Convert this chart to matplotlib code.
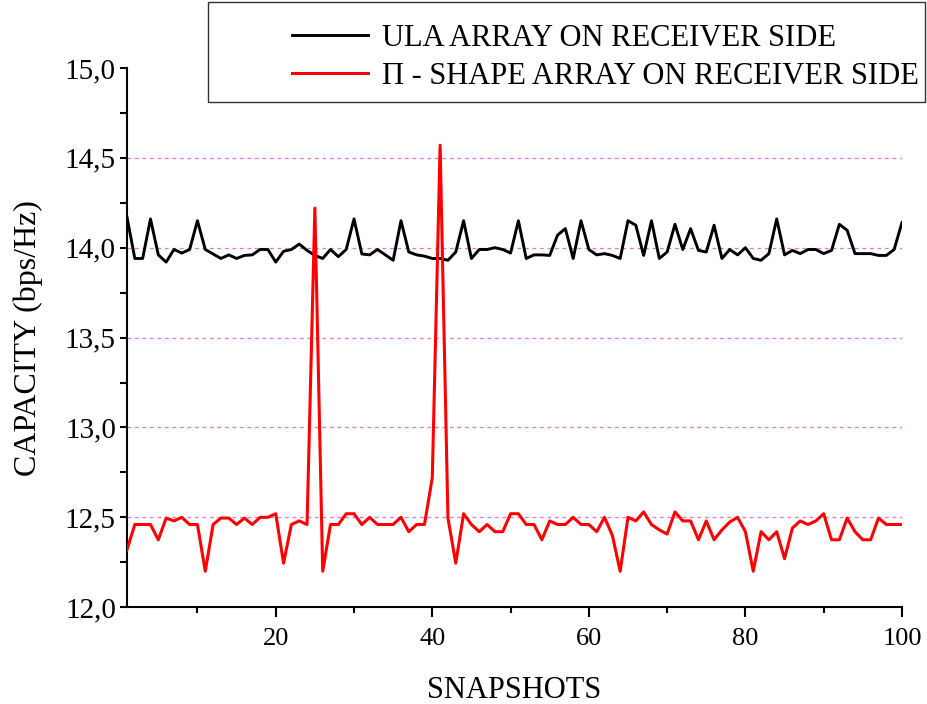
import matplotlib
matplotlib.use("Agg")
import matplotlib.pyplot as plt
from matplotlib.patches import Rectangle
from matplotlib.ticker import MultipleLocator, FuncFormatter

# snapshot index
snapshots = list(range(1, 101))

# capacity (bps/Hz), ULA array on receiver side
ula = [14.17, 13.94, 13.94, 14.16, 13.96, 13.92, 13.99, 13.97, 13.99, 14.15,
       13.99, 13.965, 13.94, 13.96, 13.94, 13.957, 13.96, 13.99, 13.99, 13.92,
       13.98, 13.99, 14.02, 13.985, 13.957, 13.94, 13.99, 13.95, 13.99, 14.16,
       13.965, 13.96, 13.99, 13.96, 13.93, 14.15, 13.976, 13.96, 13.953, 13.94,
       13.94, 13.93, 13.976, 14.15, 13.94, 13.99, 13.99, 14.0, 13.99, 13.97,
       14.15, 13.94, 13.96, 13.96, 13.957, 14.07, 14.106, 13.94, 14.15, 13.99,
       13.96, 13.967, 13.957, 13.94, 14.15, 14.125, 13.957, 14.15, 13.94, 13.976,
       14.13, 13.99, 14.106, 13.985, 13.976, 14.125, 13.94, 13.99, 13.96, 14.0,
       13.94, 13.93, 13.967, 14.16, 13.96, 13.985, 13.967, 13.99, 13.99, 13.967,
       13.985, 14.13, 14.097, 13.967, 13.967, 13.967, 13.957, 13.957, 13.99, 14.14]

# capacity (bps/Hz), PI-shape array on receiver side
pi_shape = [12.32, 12.46, 12.46, 12.46, 12.375, 12.496, 12.48, 12.5, 12.46, 12.46,
            12.20, 12.46, 12.496, 12.496, 12.46, 12.496, 12.46, 12.5, 12.5, 12.52,
            12.245, 12.46, 12.48, 12.46, 14.22, 12.20, 12.46, 12.46, 12.52, 12.52,
            12.46, 12.5, 12.46, 12.46, 12.46, 12.5, 12.42, 12.46, 12.46, 12.72,
            14.57, 12.496, 12.245, 12.52, 12.46, 12.42, 12.46, 12.42, 12.42, 12.52,
            12.52, 12.46, 12.46, 12.375, 12.48, 12.46, 12.46, 12.5, 12.46, 12.46,
            12.42, 12.5, 12.40, 12.20, 12.5, 12.48, 12.53, 12.46, 12.43, 12.407,
            12.53, 12.48, 12.48, 12.375, 12.48, 12.375, 12.43, 12.474, 12.5, 12.42,
            12.20, 12.42, 12.375, 12.42, 12.27, 12.44, 12.48, 12.46, 12.48, 12.52,
            12.375, 12.375, 12.496, 12.42, 12.375, 12.375, 12.496, 12.46, 12.46, 12.46]

labels = ["ULA ARRAY ON RECEIVER SIDE", "\u03a0 - SHAPE ARRAY ON RECEIVER SIDE"]

plt.rcParams['font.family'] = ['Liberation Serif', 'DejaVu Serif']

fig = plt.figure(figsize=(9.27, 7.04), dpi=100)
ax = fig.add_axes([0.137, 0.1375, 0.836, 0.766])

# dashed grid lines at the major y ticks
for g in [12.5, 13.0, 13.5, 14.0, 14.5]:
    ax.axhline(g, color='#dd77dd', linewidth=0.9, linestyle=(0, (3, 3)), zorder=1)

l1, = ax.plot(snapshots, ula, color='black', linewidth=2.1, zorder=3)
l2, = ax.plot(snapshots, pi_shape, color='#ff0000', linewidth=2.2, zorder=3)

ax.set_xlim(1, 100)
ax.set_ylim(12.0, 15.0)
ax.xaxis.set_major_locator(MultipleLocator(20))
ax.xaxis.set_minor_locator(MultipleLocator(10))
ax.yaxis.set_major_locator(MultipleLocator(0.5))
ax.yaxis.set_minor_locator(MultipleLocator(0.25))
ax.yaxis.set_major_formatter(FuncFormatter(lambda v, p: ("%.1f" % v).replace('.', ',')))

for s in ['top', 'right']:
    ax.spines[s].set_visible(False)
for s in ['left', 'bottom']:
    ax.spines[s].set_linewidth(1.5)

ax.tick_params(axis='x', which='major', direction='out', length=7, width=1.5, labelsize=19, pad=8)
ax.tick_params(axis='x', which='minor', direction='out', length=4, width=1.5)
ax.tick_params(axis='y', which='major', direction='out', length=5, width=1.5, labelsize=21, pad=3)
ax.tick_params(axis='y', which='minor', direction='out', length=5, width=1.5)

ax.set_xlabel("SNAPSHOTS", fontsize=22, labelpad=19)
ax.set_ylabel("CAPACITY (bps/Hz)", fontsize=23, labelpad=16)

# legend box drawn separately so it can be wider than the entries
fig.patches.append(Rectangle((0.2244, 0.855), 0.7735, 0.142, transform=fig.transFigure,
                             facecolor='white', edgecolor='#333333', linewidth=1.0, zorder=5))
leg = fig.legend([l1, l2], labels, loc='upper left',
                 bbox_to_anchor=(0.315, 0.966), fontsize=22, frameon=False,
                 handlelength=2.5, handletextpad=0.45, borderpad=0.0,
                 labelspacing=0.3, borderaxespad=0.0)
leg.set_zorder(6)

fig.savefig("out.png", dpi=100)
